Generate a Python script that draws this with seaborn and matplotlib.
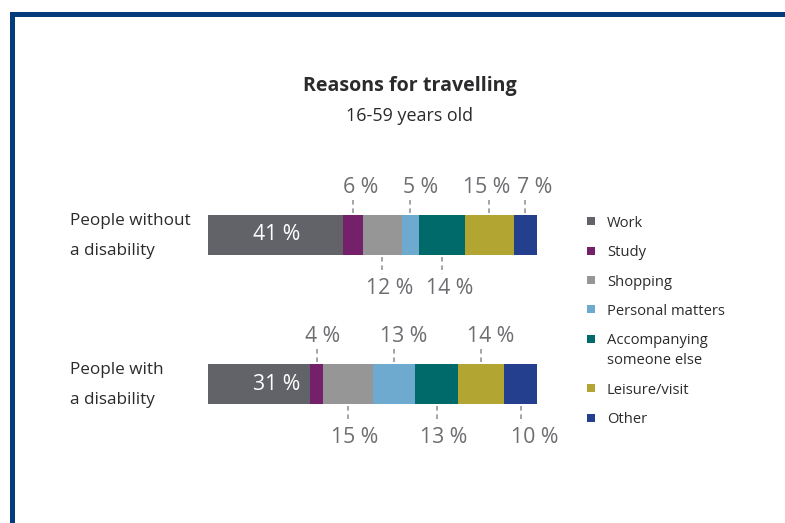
import matplotlib
matplotlib.use("Agg")
import matplotlib.pyplot as plt
from matplotlib.patches import Rectangle
from matplotlib.transforms import blended_transform_factory
import seaborn as sns
import pandas as pd
import numpy as np

# ---------------- data ----------------
groups = ["People without\na disability", "People with\na disability"]
reasons = ["Work", "Study", "Shopping", "Personal matters",
           "Accompanying\nsomeone else", "Leisure/visit", "Other"]
without_disability = [41, 6, 12, 5, 14, 15, 7]
with_disability = [31, 4, 15, 13, 13, 14, 10]
# where each value label goes: inside the bar, above it or below it
place_without = ["in", "above", "below", "above", "below", "above", "above"]
place_with = ["in", "above", "below", "above", "below", "above", "below"]
colors = ["#616369", "#74206A", "#969696", "#6EAAD0", "#00696A", "#B2A531", "#243F8E"]
title = "Reasons for travelling"
subtitle = "16-59 years old"

# ---------------- layout (pixel nudges of the value labels) ----------------
nudge_without = [0, 8, 7, 10, 8, -3, 9]
nudge_with = [0, 6, 7, 10, 7, 10, 14]

# ---------------- style ----------------
sns.set_style("white")
plt.rcParams["font.family"] = ["Open Sans", "DejaVu Sans"]
LABEL_GRAY = "#6D6E71"
TEXT_DARK = "#2B2A2C"
FRAME = "#033C7C"

W, H = 785, 523
fig = plt.figure(figsize=(W / 100, H / 100), dpi=100)
fig.patch.set_facecolor("white")

# axes geometry (pixels)
ax_left, ax_right, ax_top, ax_bot = 208, 537, 150, 470
row_gap = 149.0
row0_px = 235
ax = fig.add_axes([ax_left / W, (H - ax_bot) / H, (ax_right - ax_left) / W, (ax_bot - ax_top) / H])

vals = np.array([without_disability, with_disability], dtype=float)
cum = np.cumsum(vals, axis=1)
bar_th = 40 / row_gap

# stacked horizontal bars: draw cumulative totals from the last segment back
for j in range(len(reasons) - 1, -1, -1):
    df = pd.DataFrame({"group": groups, "value": cum[:, j]})
    sns.barplot(data=df, x="value", y="group", orient="h", color=colors[j],
                saturation=1, width=bar_th, linewidth=0, ax=ax, errorbar=None)

ax.set_xlim(0, 100)
ax.set_ylim(1 + (ax_bot - (row0_px + row_gap)) / row_gap, -(row0_px - ax_top) / row_gap)
ax.axis("off")

px = 1.0 / row_gap
placements = [place_without, place_with]
nudges = [nudge_without, nudge_with]
INSIDE_X = 21
LBL_FS = 15.3
for i in range(len(groups)):
    for j in range(len(reasons)):
        v = vals[i, j]
        left = cum[i, j] - v
        cx = left + v / 2
        lab = f"{int(v)} %"
        p = placements[i][j]
        nx = nudges[i][j]
        if p == "in":
            ax.text(INSIDE_X, i, lab, color="white", fontsize=LBL_FS,
                    ha="center", va="center")
        elif p == "above":
            ax.plot([cx, cx], [i - bar_th / 2 - 2 * px, i - bar_th / 2 - 18 * px],
                    color="#8A8B8D", lw=1.1, ls=(0, (3, 2.5)))
            ax.annotate(lab, (cx, i), xytext=(nx, 42), textcoords="offset pixels",
                        color=LABEL_GRAY, fontsize=LBL_FS, ha="center", va="baseline")
        else:
            ax.plot([cx, cx], [i + bar_th / 2 + 2 * px, i + bar_th / 2 + 19 * px],
                    color="#8A8B8D", lw=1.1, ls=(0, (3, 2.5)))
            ax.annotate(lab, (cx, i), xytext=(nx, -59), textcoords="offset pixels",
                        color=LABEL_GRAY, fontsize=LBL_FS, ha="center", va="baseline")

# row labels (two lines each, left aligned at x=70px)
row_tr = blended_transform_factory(fig.transFigure, ax.transData)
for i, g in enumerate(groups):
    for k, ln in enumerate(g.split("\n")):
        ax.annotate(ln, (70 / W, i), xycoords=row_tr, xytext=(0, 10 - 30 * k),
                    textcoords="offset pixels", ha="left", va="baseline",
                    fontsize=12.3, color=TEXT_DARK, annotation_clip=False)

# title
fig.text(410 / W, 1 - 91 / H, title, ha="center", va="baseline", fontsize=14.1,
         fontweight="bold", color=TEXT_DARK)
fig.text(410 / W, 1 - 121 / H, subtitle, ha="center", va="baseline", fontsize=12.9,
         color=TEXT_DARK)

# legend (manual)
base = 226.7
step = 29.4
line_gap = 20.0
extra = 0
for j, (r, c) in enumerate(zip(reasons, colors)):
    y = base + step * j + extra
    fig.patches.append(Rectangle(((591 - 4) / W, 1 - (y - 5.5 + 4) / H), 8 / W, 8 / H,
                                 transform=fig.transFigure, facecolor=c, edgecolor="none"))
    lines = r.split("\n")
    for k, ln in enumerate(lines):
        fig.text(607 / W, 1 - (y + line_gap * k) / H, ln, ha="left", va="baseline",
                 fontsize=10.6, color=TEXT_DARK)
    extra += line_gap * (len(lines) - 1)

# frame
fig.patches.append(Rectangle((10 / W, 0), 5 / W, (H - 12) / H, transform=fig.transFigure,
                             facecolor=FRAME, edgecolor="none"))
fig.patches.append(Rectangle((10 / W, 1 - 17 / H), (W - 10) / W, 5 / H, transform=fig.transFigure,
                             facecolor=FRAME, edgecolor="none"))

fig.savefig("out.png", dpi=100, facecolor="white")
